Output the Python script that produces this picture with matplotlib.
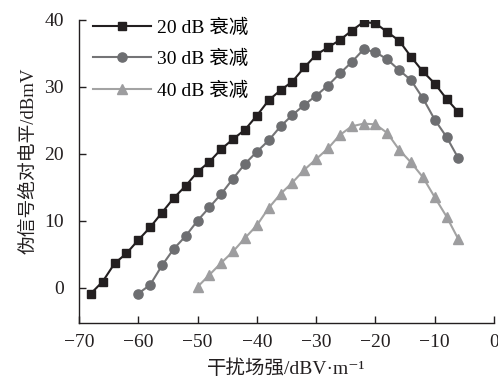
import matplotlib
matplotlib.use("Agg")
import matplotlib.pyplot as plt

plt.rcParams['font.family'] = ['Liberation Serif', 'Noto Sans CJK SC', 'DejaVu Sans']
plt.rcParams['font.size'] = 14

# 干扰场强 (dBV/m)
x20 = [-68, -66, -64, -62, -60, -58, -56, -54, -52, -50, -48, -46, -44, -42, -40,
       -38, -36, -34, -32, -30, -28, -26, -24, -22, -20, -18, -16, -14, -12, -10, -8, -6]
y20 = [-0.9, 0.9, 3.6, 5.1, 7.1, 9.0, 11.2, 13.4, 15.2, 17.3, 18.8, 20.7, 22.2, 23.6, 25.7,
       28.0, 29.5, 30.8, 32.9, 34.8, 35.9, 37.0, 38.4, 39.7, 39.5, 38.2, 36.9, 34.5, 32.3, 30.5, 28.2, 26.2]

x30 = [-60, -58, -56, -54, -52, -50, -48, -46, -44, -42, -40, -38, -36, -34, -32,
       -30, -28, -26, -24, -22, -20, -18, -16, -14, -12, -10, -8, -6]
y30 = [-0.9, 0.4, 3.3, 5.8, 7.7, 10.0, 12.0, 14.0, 16.3, 18.5, 20.3, 22.0, 24.1, 25.8, 27.3,
       28.7, 30.2, 32.0, 33.7, 35.6, 35.2, 34.1, 32.5, 31.0, 28.3, 25.1, 22.5, 19.3]

x40 = [-50, -48, -46, -44, -42, -40, -38, -36, -34, -32, -30, -28, -26, -24, -22,
       -20, -18, -16, -14, -12, -10, -8, -6]
y40 = [0.1, 1.9, 3.7, 5.4, 7.4, 9.3, 11.9, 14.0, 15.7, 17.6, 19.2, 20.8, 22.8, 24.1, 24.5,
       24.4, 23.1, 20.6, 18.7, 16.5, 13.5, 10.6, 7.2]

fig = plt.figure(figsize=(4.98, 3.9), dpi=100)
ax = fig.add_axes([0.1586, 0.1718, 0.8334, 0.777])

ax.plot(x20, y20, color='#231f20', lw=1.5, marker='s', ms=6, mfc='#231f20', mec='#231f20',
        label='20 dB 衰减')
ax.plot(x30, y30, color='#747476', lw=1.5, marker='o', ms=6.6, mfc='#6d6e71', mec='#6d6e71',
        label='30 dB 衰减')
ax.plot(x40, y40, color='#a3a3a3', lw=1.5, marker='^', ms=7.5, mfc='#9d9d9f', mec='#9d9d9f',
        label='40 dB 衰减')

ax.set_xlim(-70, 0)
ax.set_ylim(-5.3, 40)
ax.set_xticks(range(-70, 1, 10))
ax.set_xticklabels(['\u221270', '\u221260', '\u221250', '\u221240', '\u221230', '\u221220', '\u221210', '0'])
ax.set_yticks([0, 10, 20, 30, 40])

for s in ['top', 'right']:
    ax.spines[s].set_visible(False)
for s in ['left', 'bottom']:
    ax.spines[s].set_color('#231f20')
    ax.spines[s].set_linewidth(1.0)
ax.tick_params(direction='in', length=5, width=1.0, colors='#231f20', labelsize=14)
ax.tick_params(axis='x', pad=8)
ax.tick_params(axis='y', pad=11)

ax.set_xlabel('干扰场强/dBV·m⁻¹', fontsize=14, color='#231f20', labelpad=6)
ax.set_ylabel('伪信号绝对电平/dBmV', fontsize=13.5, color='#231f20')
ax.yaxis.set_label_coords(-0.101, 0.535)

ax.legend(loc='upper left', bbox_to_anchor=(0.0, 1.05), frameon=False, handlelength=3.0,
          labelspacing=0.68, handletextpad=0.3, borderaxespad=0.3)

fig.savefig('out.png', dpi=100)
